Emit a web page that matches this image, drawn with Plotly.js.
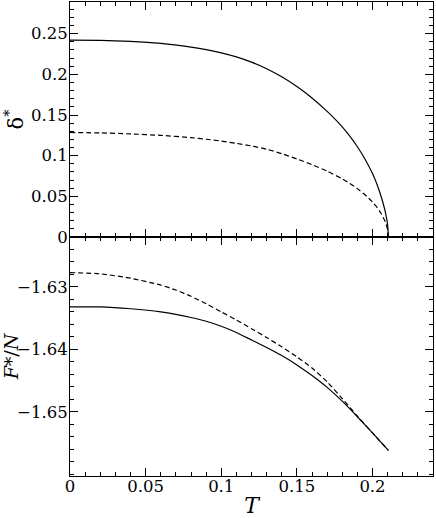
<!DOCTYPE html>
<html>
<head>
<meta charset="utf-8">
<script src="https://cdn.plot.ly/plotly-3.0.1.min.js"></script>
<style>html,body{margin:0;padding:0;background:#fff;}#chart{width:436px;height:518px;}</style>
</head>
<body>
<div id="chart"></div>
<script>
// Temperatures for the order-parameter panel
const T_gap = [0, 0.02, 0.04, 0.06, 0.08, 0.09, 0.10, 0.11, 0.12, 0.13, 0.14, 0.15, 0.16, 0.17, 0.18, 0.185, 0.19, 0.195, 0.20, 0.203, 0.206, 0.208, 0.209, 0.210, 0.2105];
// delta* solid curve
const gapSolid = [0.2420, 0.2417, 0.2405, 0.2380, 0.2335, 0.2305, 0.2265, 0.2215, 0.2150, 0.2070, 0.1970, 0.1850, 0.1710, 0.1545, 0.1355, 0.1240, 0.1110, 0.0960, 0.0780, 0.0645, 0.0480, 0.0345, 0.0260, 0.0150, 0];
// delta* dashed curve
const gapDashed = [0.1285, 0.1280, 0.1268, 0.1250, 0.1222, 0.1202, 0.1180, 0.1152, 0.1120, 0.1080, 0.1025, 0.0960, 0.0890, 0.0810, 0.0715, 0.0660, 0.0595, 0.0520, 0.0430, 0.0365, 0.0280, 0.0205, 0.0155, 0.0090, 0];

// Temperatures for the free-energy panel
const T_free = [0, 0.02, 0.04, 0.06, 0.07, 0.08, 0.09, 0.10, 0.11, 0.12, 0.13, 0.14, 0.15, 0.16, 0.17, 0.18, 0.19, 0.20, 0.2105];
// F*/N solid curve
const freeSolid = [-1.6332, -1.6332, -1.6335, -1.6340, -1.6344, -1.6349, -1.6355, -1.6363, -1.6373, -1.6385, -1.6397, -1.6410, -1.6425, -1.6442, -1.6461, -1.6483, -1.6508, -1.6534, -1.6562];
// F*/N dashed curve
const freeDashed = [-1.6277, -1.6279, -1.6286, -1.6297, -1.6305, -1.6315, -1.6327, -1.6340, -1.6353, -1.6367, -1.6381, -1.6396, -1.6412, -1.6430, -1.6452, -1.6479, -1.6507, -1.6534, -1.6562];

const xTickVals = [0, 0.05, 0.1, 0.15, 0.2];
const xTickText = ['0', '0.05', '0.1', '0.15', '0.2'];
const gapTickVals = [0, 0.05, 0.1, 0.15, 0.2, 0.25];
const gapTickText = ['0', '0.05', '0.1', '0.15', '0.2', '0.25'];
const freeTickVals = [-1.65, -1.64, -1.63];
const freeTickText = ['\u22121.65', '\u22121.64', '\u22121.63'];

const FONT = 'DejaVu Serif';
const TICKSIZE = 16.5;
const solidLine = {color: '#000', width: 1.2, shape: 'spline', smoothing: 0.5};
const dashedLine = {color: '#000', width: 1.2, dash: '5px,3px', shape: 'spline', smoothing: 0.5};

const traces = [
  {x: T_gap, y: gapSolid, xaxis: 'x2', yaxis: 'y2', mode: 'lines', line: solidLine, hoverinfo: 'skip'},
  {x: T_gap, y: gapDashed, xaxis: 'x2', yaxis: 'y2', mode: 'lines', line: dashedLine, hoverinfo: 'skip'},
  {x: T_free, y: freeSolid, xaxis: 'x', yaxis: 'y', mode: 'lines', line: solidLine, hoverinfo: 'skip'},
  {x: T_free, y: freeDashed, xaxis: 'x', yaxis: 'y', mode: 'lines', line: dashedLine, hoverinfo: 'skip'}
];

const axisCommon = {
  showline: true, linecolor: '#000', linewidth: 1, mirror: 'ticks',
  ticks: 'inside', ticklen: 8, tickwidth: 1, tickcolor: '#000',
  showgrid: false, zeroline: false, fixedrange: true,
  tickfont: {family: FONT, size: TICKSIZE, color: '#000'}
};
const minorX = {dtick: 0.01, tick0: 0, ticks: 'inside', ticklen: 4, tickcolor: '#000', tickwidth: 1};

const layout = {
  width: 436, height: 518,
  margin: {l: 70, r: 3, t: 2, b: 42},
  paper_bgcolor: '#fff', plot_bgcolor: '#fff',
  font: {family: FONT, color: '#000', size: TICKSIZE},
  showlegend: false,
  xaxis: Object.assign({}, axisCommon, {
    domain: [0, 1], anchor: 'y', range: [0, 0.24],
    tickmode: 'array', tickvals: xTickVals, ticktext: xTickText,
    ticklabelstandoff: -5,
    minor: minorX,
    title: {text: '<i>T</i>', font: {family: FONT, size: 22, color: '#000'}, standoff: 6}
  }),
  xaxis2: Object.assign({}, axisCommon, {
    domain: [0, 1], anchor: 'y2', range: [0, 0.24], matches: 'x',
    tickmode: 'array', tickvals: xTickVals, showticklabels: false,
    minor: minorX
  }),
  yaxis: Object.assign({}, axisCommon, {
    domain: [0, 0.5042], anchor: 'x', range: [-1.6603, -1.6220],
    tickmode: 'array', tickvals: freeTickVals, ticktext: freeTickText,
    ticklabelstandoff: -2,
    minor: {dtick: 0.002, tick0: -1.65, ticks: 'inside', ticklen: 4, tickcolor: '#000', tickwidth: 1},
    title: {text: '<i>F</i>*/<i>N</i>', font: {family: FONT, size: 19, color: '#000'}, standoff: 14}
  }),
  yaxis2: Object.assign({}, axisCommon, {
    domain: [0.5042, 1], anchor: 'x2', range: [0, 0.289],
    tickmode: 'array', tickvals: gapTickVals, ticktext: gapTickText,
    ticklabelstandoff: -2,
    minor: {dtick: 0.01, tick0: 0, ticks: 'inside', ticklen: 4, tickcolor: '#000', tickwidth: 1},
    title: {text: 'δ<sup>*</sup>', font: {family: FONT, size: 21, color: '#000'}, standoff: 16}
  })
};

Plotly.newPlot('chart', traces, layout, {staticPlot: true, displayModeBar: false});
</script>
</body>
</html>
